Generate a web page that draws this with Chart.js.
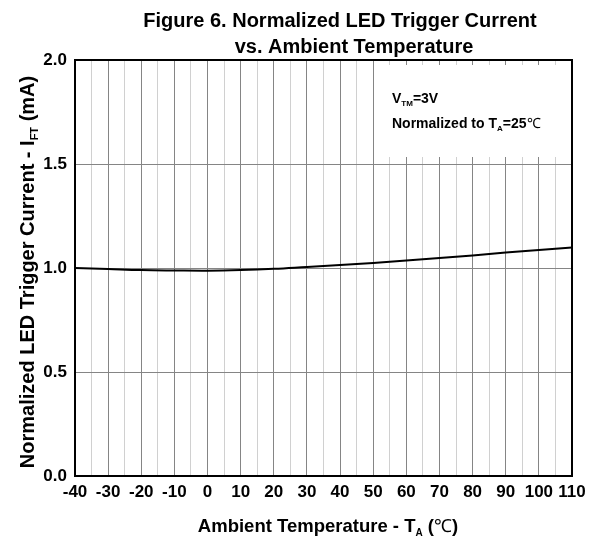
<!DOCTYPE html>
<html>
<head>
<meta charset="utf-8">
<script src="https://cdn.jsdelivr.net/npm/chart.js@4.4.0/dist/chart.umd.min.js"></script>
<style>
  body { margin: 0; background: #fff; }
  #wrap { width: 597px; height: 541px; }
</style>
</head>
<body>
<div id="wrap"><canvas id="chart" width="597" height="541"></canvas></div>
<script>
// data
const temps = [-40, -30, -20, -10, 0, 10, 20, 30, 40, 50, 60, 70, 80, 90, 100, 110];
const iftNorm = [1.0, 0.995, 0.99, 0.988, 0.987, 0.99, 0.996, 1.005, 1.014, 1.024, 1.036, 1.048, 1.06, 1.074, 1.086, 1.099];
const yTickLabels = ["0.0", "0.5", "1.0", "1.5", "2.0"];
const titleLines = ["Figure 6. Normalized LED Trigger Current", "vs. Ambient Temperature"];

const FONT = "'Liberation Sans', Arial, sans-serif";

// draw text pieces, some of them as subscripts
function richText(ctx, segs, x, y, align) {
  let total = 0;
  segs.forEach(s => {
    ctx.font = s.font;
    total += ctx.measureText(s.text).width;
  });
  let cx = align === "center" ? x - total / 2 : x;
  ctx.textAlign = "left";
  ctx.textBaseline = "alphabetic";
  segs.forEach(s => {
    ctx.font = s.font;
    ctx.fillText(s.text, cx, y + (s.dy || 0));
    cx += ctx.measureText(s.text).width;
  });
}

const decor = {
  id: "decor",
  beforeDatasetsDraw(chart) {
    const ctx = chart.ctx;
    const a = chart.chartArea;
    // white box behind the note
    ctx.save();
    ctx.fillStyle = "#fff";
    ctx.fillRect(375, a.top + 5, a.right - 375, 92);
    ctx.fillStyle = "#000";
    richText(ctx, [
      { text: "V", font: "bold 14px " + FONT },
      { text: "TM", font: "bold 8px " + FONT, dy: 3 },
      { text: "=3V", font: "bold 14px " + FONT }
    ], 392, 103);
    richText(ctx, [
      { text: "Normalized to T", font: "bold 14px " + FONT },
      { text: "A", font: "bold 8px " + FONT, dy: 3 },
      { text: "=25", font: "bold 14px " + FONT },
      { text: "\u2103", font: "14px " + FONT }
    ], 392, 128);
    ctx.restore();
  },
  afterDraw(chart) {
    const ctx = chart.ctx;
    const a = chart.chartArea;
    ctx.save();
    // frame
    ctx.strokeStyle = "#000";
    ctx.lineWidth = 2;
    ctx.strokeRect(a.left, a.top, a.right - a.left, a.bottom - a.top);
    ctx.fillStyle = "#000";
    // title
    ctx.font = "bold 20px " + FONT;
    ctx.textAlign = "center";
    ctx.fillText(titleLines[0], 340, 27);
    ctx.fillText(titleLines[1], 354, 53);
    // x axis title
    richText(ctx, [
      { text: "Ambient Temperature - T", font: "bold 18.5px " + FONT },
      { text: "A", font: "bold 10px " + FONT, dy: 4 },
      { text: " (", font: "bold 18.5px " + FONT },
      { text: "\u2103", font: "18px " + FONT },
      { text: ")", font: "bold 18.5px " + FONT }
    ], 328, 532, "center");
    // y axis title
    ctx.translate(34, 272);
    ctx.rotate(-Math.PI / 2);
    richText(ctx, [
      { text: "Normalized LED Trigger Current - I", font: "bold 20px " + FONT },
      { text: "FT", font: "bold 11px " + FONT, dy: 4 },
      { text: " (mA)", font: "bold 20px " + FONT }
    ], 0, 0, "center");
    ctx.restore();
  }
};

new Chart(document.getElementById("chart"), {
  type: "line",
  data: {
    datasets: [{
      data: temps.map((t, i) => ({ x: t, y: iftNorm[i] })),
      borderColor: "#000",
      borderWidth: 2,
      pointRadius: 0,
      tension: 0.4,
      fill: false
    }]
  },
  options: {
    responsive: false,
    animation: false,
    layout: { padding: { top: 60, right: 25, left: 0, bottom: 0 } },
    plugins: { legend: { display: false }, tooltip: { enabled: false } },
    scales: {
      x: {
        type: "linear",
        min: -40,
        max: 110,
        afterFit: s => { s.height = 65; },
        ticks: {
          stepSize: 5,
          autoSkip: false,
          maxRotation: 0,
          padding: 6,
          color: "#000",
          font: { family: FONT, size: 17, weight: "bold" },
          callback: v => (v % 10 === 0 ? String(v) : "")
        },
        grid: {
          drawTicks: false,
          color: c => (c.tick && c.tick.value % 10 === 0 ? "#858585" : "#d0d0d0"),
          lineWidth: 1
        },
        border: { display: false }
      },
      y: {
        min: 0,
        max: 2,
        afterFit: s => { s.width = 75; },
        ticks: {
          stepSize: 0.5,
          padding: 8,
          color: "#000",
          font: { family: FONT, size: 17, weight: "bold" },
          callback: (v, i) => yTickLabels[i]
        },
        grid: { drawTicks: false, color: "#858585", lineWidth: 1 },
        border: { display: false }
      }
    }
  },
  plugins: [decor]
});
</script>
</body>
</html>
